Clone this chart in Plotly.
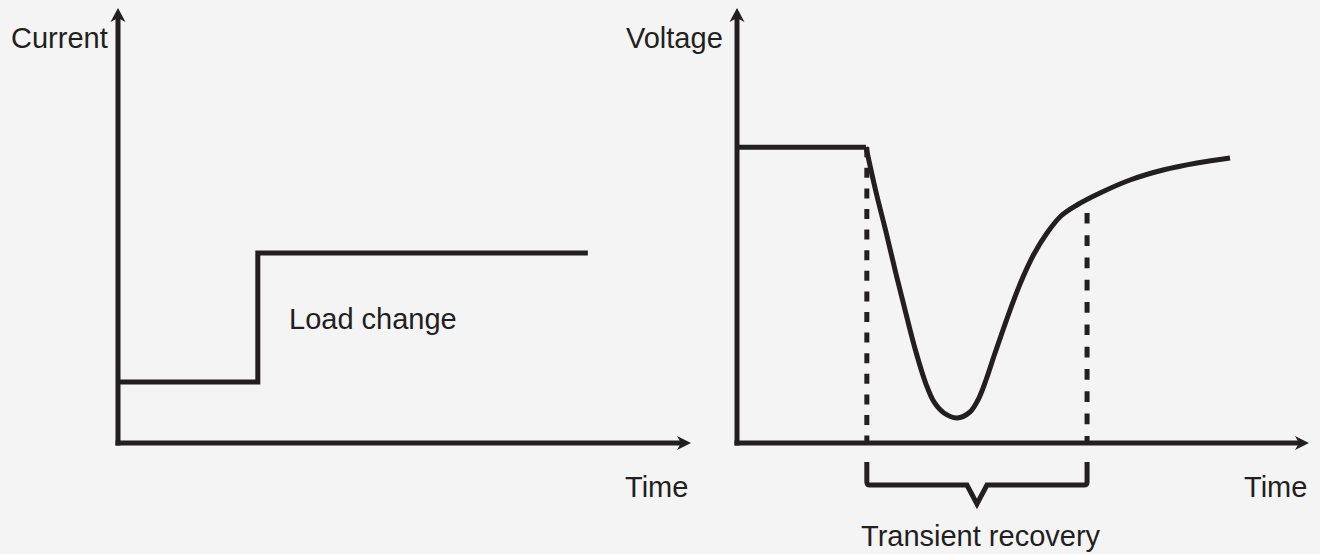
import plotly.graph_objects as go
import numpy as np

# ---------------- data (arbitrary units) ----------------
time_left = [0.0, 2.44, 2.44, 8.20]
current = [1.40, 1.40, 4.37, 4.37]

hold_time = [0.0, 2.255]
hold_voltage = [6.80, 6.80]

drop_time = [2.255, 2.430, 2.605, 2.780, 2.955, 3.129, 3.304, 3.444, 3.619, 3.846,
             4.073, 4.213, 4.353, 4.493, 4.650, 4.825, 5.000, 5.192, 5.420, 5.664,
             5.944, 6.346, 6.871, 7.448, 8.042, 8.619]
drop_voltage = [6.805, 5.770, 4.851, 3.885, 2.966, 2.092, 1.356, 0.943, 0.690, 0.575,
                0.713, 0.989, 1.448, 2.000, 2.598, 3.241, 3.816, 4.345, 4.828, 5.218,
                5.471, 5.747, 6.046, 6.276, 6.437, 6.552]

recovery_start = 2.27
recovery_end = 6.12
marker_tops = [6.80, 5.29]

labels_left = {"y": "Current", "x": "Time", "note": "Load change"}
labels_right = {"y": "Voltage", "x": "Time", "note": "Transient recovery"}

# ---------------- layout geometry (pixels) ----------------
W, H = 1320, 554
INK = "#231f20"
BG = "#f4f4f4"
LW = 5
FONT = dict(family="Liberation Sans, Arial, Helvetica, sans-serif", size=29, color=INK)

ORIGIN_Y = 443.0
SY = 43.5                      # px per voltage/current unit
L_OX, L_SX = 118.0, 57.3       # left panel origin x, px per time unit
R_OX, R_SX = 737.0, 57.2       # right panel
AX_LEN = 10.0                  # axis length in data units

def yr():
    return [(ORIGIN_Y - H) / SY, ORIGIN_Y / SY]

L_DOM = [0.0, 0.55]
R_DOM = [0.5, 1.0]
l_range = [(L_DOM[0] * W - L_OX) / L_SX, (L_DOM[1] * W - L_OX) / L_SX]
r_range = [(R_DOM[0] * W - R_OX) / R_SX, (R_DOM[1] * W - R_OX) / R_SX]

fig = go.Figure()

line = dict(color=INK, width=LW)

fig.add_trace(go.Scatter(x=time_left, y=current, mode="lines", line=line,
                         xaxis="x", yaxis="y", hoverinfo="skip"))
fig.add_trace(go.Scatter(x=hold_time, y=hold_voltage, mode="lines", line=line,
                         xaxis="x2", yaxis="y2", hoverinfo="skip"))
fig.add_trace(go.Scatter(x=drop_time, y=drop_voltage, mode="lines",
                         line=dict(color=INK, width=LW, shape="spline", smoothing=1.0),
                         xaxis="x2", yaxis="y2", hoverinfo="skip"))
# dashed recovery markers
fig.add_trace(go.Scatter(x=[recovery_start, recovery_start], y=[marker_tops[0], 0],
                         mode="lines", line=dict(color=INK, width=LW, dash="10px,10.6px"),
                         xaxis="x2", yaxis="y2", hoverinfo="skip"))
fig.add_trace(go.Scatter(x=[recovery_end, recovery_end], y=[marker_tops[1], 0],
                         mode="lines", line=dict(color=INK, width=LW, dash="10.7px,11.6px"),
                         xaxis="x2", yaxis="y2", hoverinfo="skip"))

shapes = []
for xr, yref, sx in (("x", "y", L_SX), ("x2", "y2", R_SX)):
    # axes lines
    shapes.append(dict(type="line", xref=xr, yref=yref, x0=0, x1=0,
                       y0=-2.5 / SY, y1=AX_LEN - 10 / SY, line=line))
    shapes.append(dict(type="line", xref=xr, yref=yref, y0=0, y1=0,
                       x0=-2.5 / sx, x1=AX_LEN - 10 / sx, line=line))
    # arrowheads
    shapes.append(dict(type="path", xref=xr, yref=yref, xsizemode="pixel", ysizemode="pixel",
                       xanchor=0, yanchor=AX_LEN,
                       path="M0,0 L7.5,-14 L0,-10 L-7.5,-14 Z",
                       fillcolor=INK, line=dict(width=0)))
    shapes.append(dict(type="path", xref=xr, yref=yref, xsizemode="pixel", ysizemode="pixel",
                       xanchor=AX_LEN, yanchor=0,
                       path="M0,0 L-14,7 L-10,0 L-14,-7 Z",
                       fillcolor=INK, line=dict(width=0)))

# brace under the recovery window (pixel offsets relative to anchors)
mid = (recovery_start + recovery_end) / 2
span_px = (recovery_end - recovery_start) * R_SX
half = span_px / 2
top, bot, tip, notch = -19, -42, -61, 10
brace_path = (f"M{-half},{top} L{-half},{bot + 3} Q{-half},{bot} {-half + 3},{bot} "
              f"L{-notch},{bot} L0,{tip} L{notch},{bot} "
              f"L{half - 3},{bot} Q{half},{bot} {half},{bot + 3} L{half},{top}")
shapes.append(dict(type="path", xref="x2", yref="y2", xsizemode="pixel", ysizemode="pixel",
                   xanchor=mid, yanchor=0, path=brace_path, line=line))

def P(xp, yp):
    return xp / W, 1 - yp / H

annotations = []
def label(text, xp, yp, xanchor):
    x, y = P(xp, yp)
    annotations.append(dict(text=text, x=x, y=y, xref="paper", yref="paper",
                            xanchor=xanchor, yanchor="middle", showarrow=False, font=FONT))

label(labels_left["y"], 9, 38.5, "left")
label(labels_left["x"], 690, 486.5, "right")
label(labels_left["note"], 287, 319, "left")
label(labels_right["y"], 624, 38.5, "left")
label(labels_right["x"], 1309, 486.5, "right")
label(labels_right["note"], 981, 535.5, "center")

ax_common = dict(visible=False, fixedrange=True)
fig.update_layout(
    width=W, height=H,
    margin=dict(l=0, r=0, t=0, b=0, pad=0),
    paper_bgcolor=BG, plot_bgcolor="rgba(0,0,0,0)",
    showlegend=False,
    xaxis=dict(domain=L_DOM, range=l_range, anchor="y", **ax_common),
    yaxis=dict(domain=[0, 1], range=yr(), anchor="x", **ax_common),
    xaxis2=dict(domain=R_DOM, range=r_range, anchor="y2", **ax_common),
    yaxis2=dict(domain=[0, 1], range=yr(), anchor="x2", **ax_common),
    shapes=shapes,
    annotations=annotations,
)

fig.write_html("out.html", config={"displayModeBar": False},
               post_script="document.body.style.margin='0';document.body.style.overflow='hidden';"
                           "document.body.style.background='" + BG + "';")
